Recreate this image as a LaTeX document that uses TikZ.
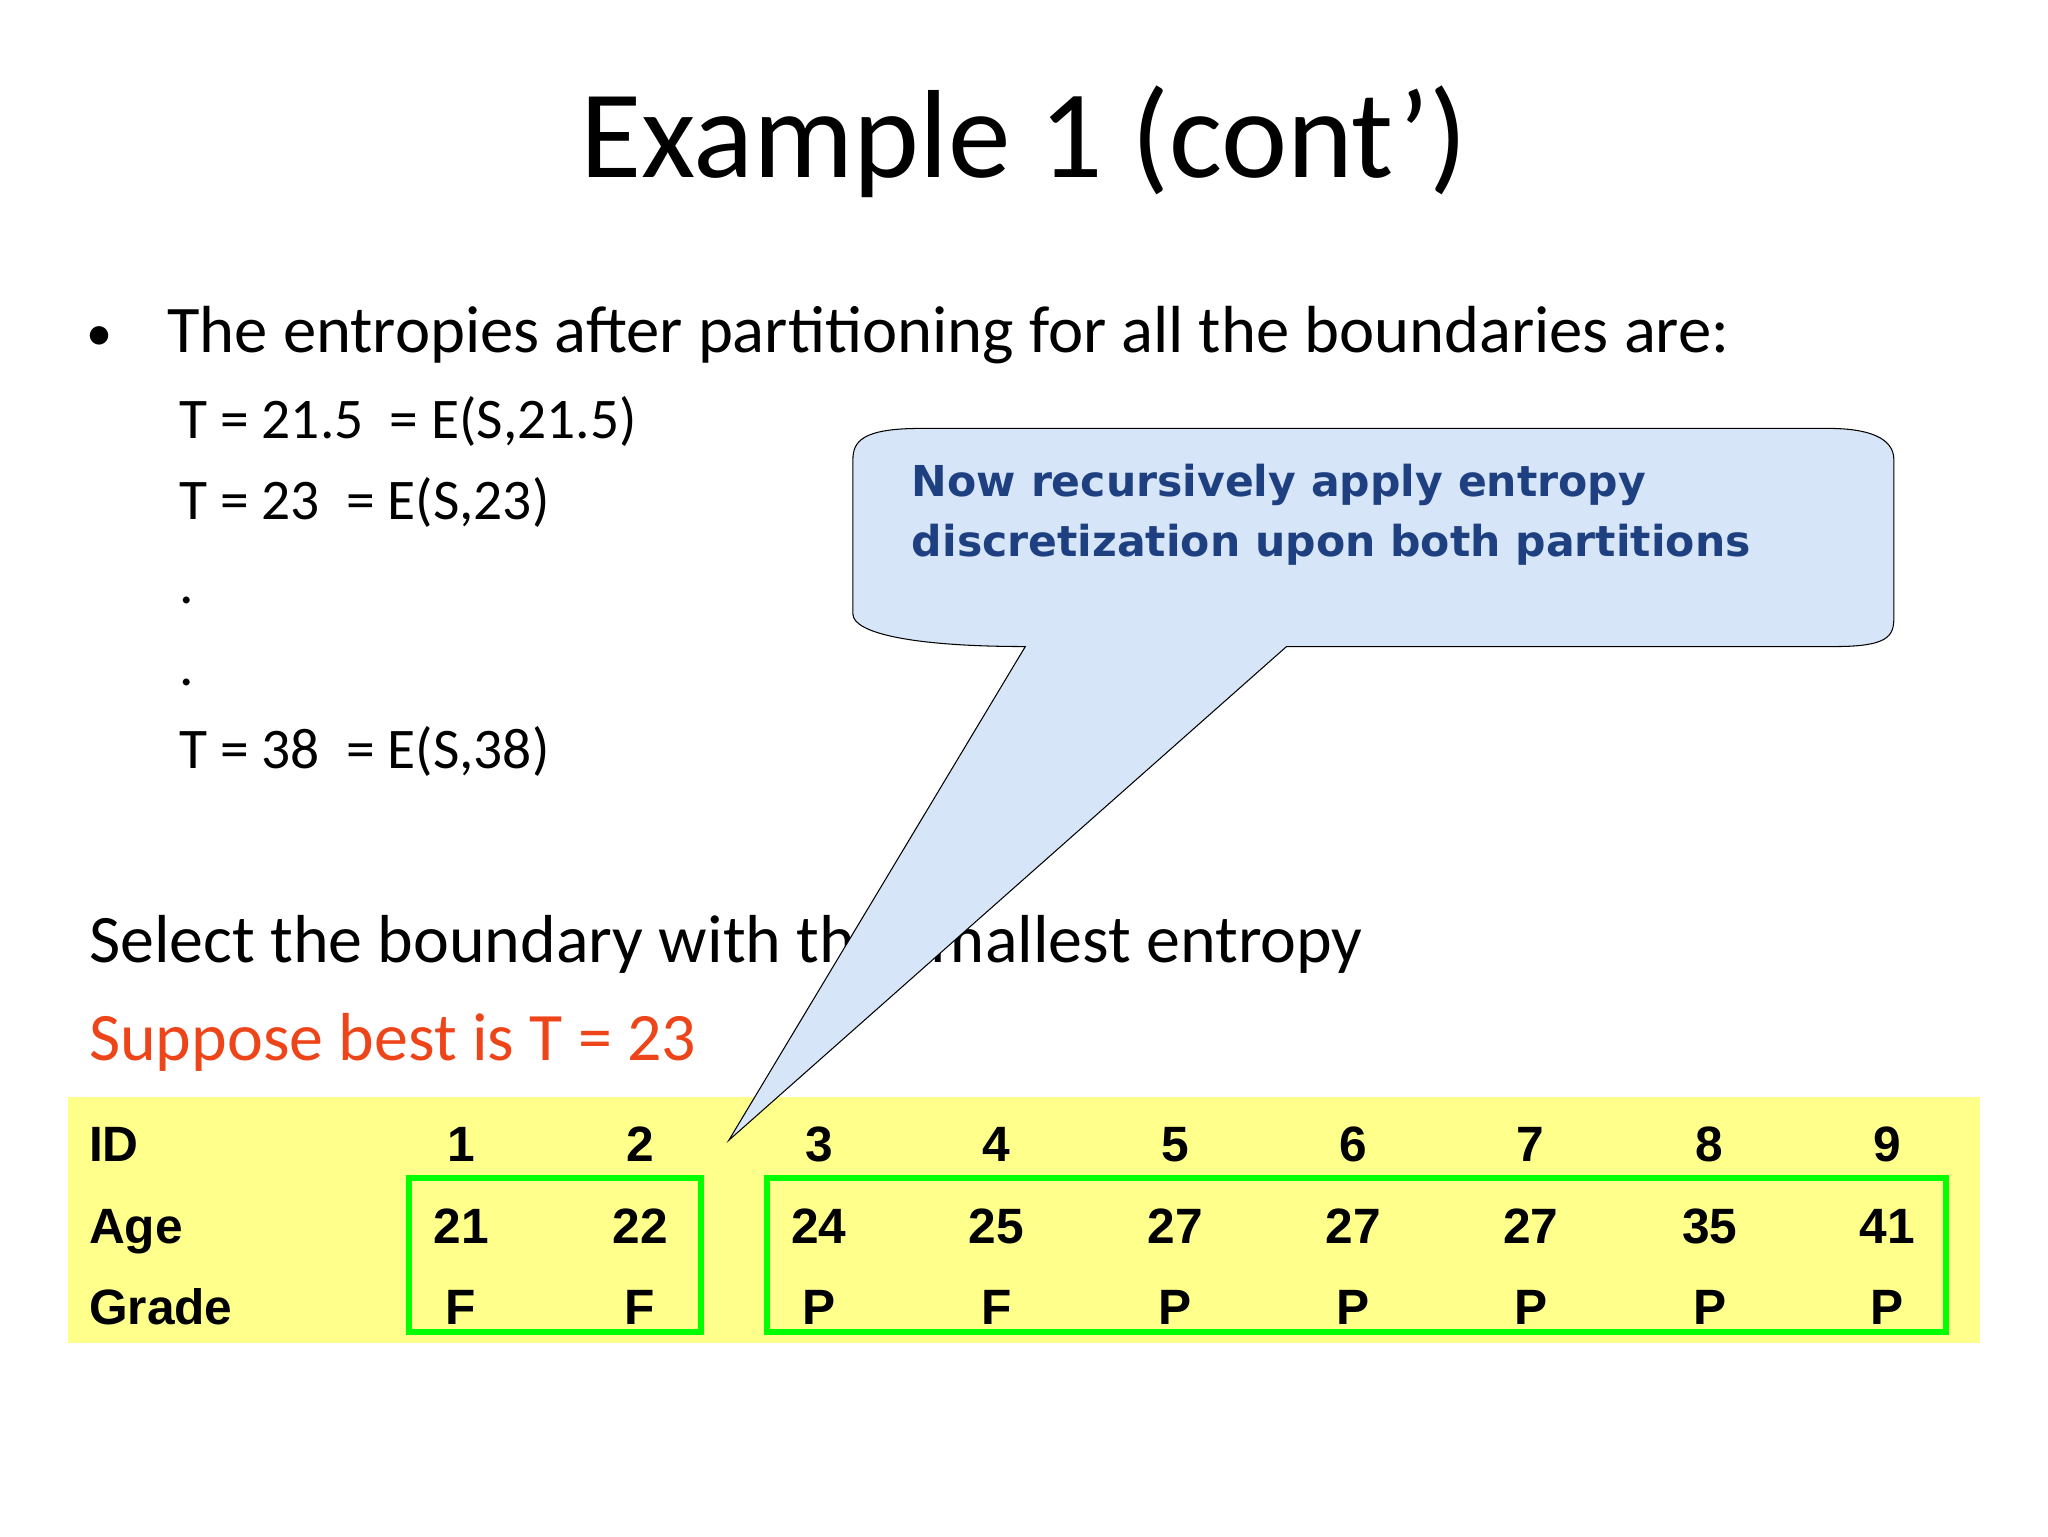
\documentclass[tikz,border=0pt]{standalone}
\usepackage{fontspec}
\setmainfont{Carlito}
\newfontfamily\arialb{Liberation Sans}
\newfontfamily\calloutf{DejaVu Sans}
\definecolor{tblyellow}{rgb}{1,1,0.55}
\definecolor{boxgreen}{rgb}{0,1,0}
\definecolor{callfill}{rgb}{0.84,0.9,0.97}
\definecolor{calltext}{rgb}{0.12,0.25,0.5}
\definecolor{redtext}{rgb}{0.93,0.27,0.1}
\tikzset{
  body/.style={anchor=base west,inner sep=0pt,font=\fontsize{44}{50}\selectfont},
  big/.style={anchor=base west,inner sep=0pt,font=\fontsize{52}{58}\selectfont},
  tcell/.style={anchor=base,inner sep=0pt,font=\arialb\bfseries\fontsize{38}{42}\selectfont},
  tlabel/.style={anchor=base west,inner sep=0pt,font=\arialb\bfseries\fontsize{38}{42}\selectfont},
  gbox/.style={draw=boxgreen,line width=4.5pt}
}
\begin{document}
\begin{tikzpicture}[x=1pt,y=-1pt]
\useasboundingbox (0,0) rectangle (1568,1176);
\node[inner sep=0pt,font=\fontsize{96}{100}\selectfont,anchor=base] (title) at (784,136) {Example 1 (cont’)};
\node[inner sep=0pt,anchor=base,font=\fontsize{40}{44}\selectfont] (bul) at (76,268) {•};
\node[big,font=\fontsize{51}{56}\selectfont] (l1) at (128,270) {The entropies after partitioning for all the boundaries are:};
\node[body] (s1) at (137,336) {T = 21.5\ \ = E(S,21.5)};
\node[body] (s2) at (137,398) {T = 23\ \ = E(S,23)};
\node[body] (s3) at (137,462) {.};
\node[body] (s4) at (137,525) {.};
\node[body] (s5) at (137,588) {T = 38\ \ = E(S,38)};
\node[big] (sel) at (68,737) {Select the boundary with the smallest entropy};
\node[big,text=redtext] (sup) at (68,812) {Suppose best is T = 23};
% table
\fill[tblyellow] (52,840) rectangle (1516,1028);
\node[tlabel] (hid) at (68,889) {ID};
\node[tlabel] (hage) at (68,952) {Age};
\node[tlabel] (hgr) at (68,1014) {Grade};
\foreach \x/\i/\a/\g [count=\n] in {353/1/21/F,490/2/22/F,627/3/24/P,763/4/25/F,900/5/27/P,1036/6/27/P,1172/7/27/P,1309/8/35/P,1445/9/41/P}{
  \node[tcell] (id\n) at (\x,889) {\i};
  \node[tcell] (age\n) at (\x,952) {\a};
  \node[tcell] (gr\n) at (\x,1014) {\g};
}
\draw[gbox] (313,902) rectangle (537,1020);
\draw[gbox] (587,902) rectangle (1490,1020);
% callout
\filldraw[fill=callfill,draw=black,line width=0.8pt]
 (785,495) -- (558,873) -- (985,495) -- (1405,495)
 .. controls (1450,495) and (1450,485) .. (1450,470) -- (1450,352)
 .. controls (1450,335) and (1430,328) .. (1400,328) -- (705,328)
 .. controls (660,328) and (653,338) .. (653,352) -- (653,470)
 .. controls (653,485) and (700,495) .. (785,495) -- cycle;
\node[anchor=base west,inner sep=0pt,text=calltext,font=\calloutf\bfseries\fontsize{32.6}{40}\selectfont] (c1) at (698,380) {Now recursively apply entropy};
\node[anchor=base west,inner sep=0pt,text=calltext,font=\calloutf\bfseries\fontsize{32.6}{40}\selectfont] (c2) at (698,426) {discretization upon both partitions};
\end{tikzpicture}
\end{document}
